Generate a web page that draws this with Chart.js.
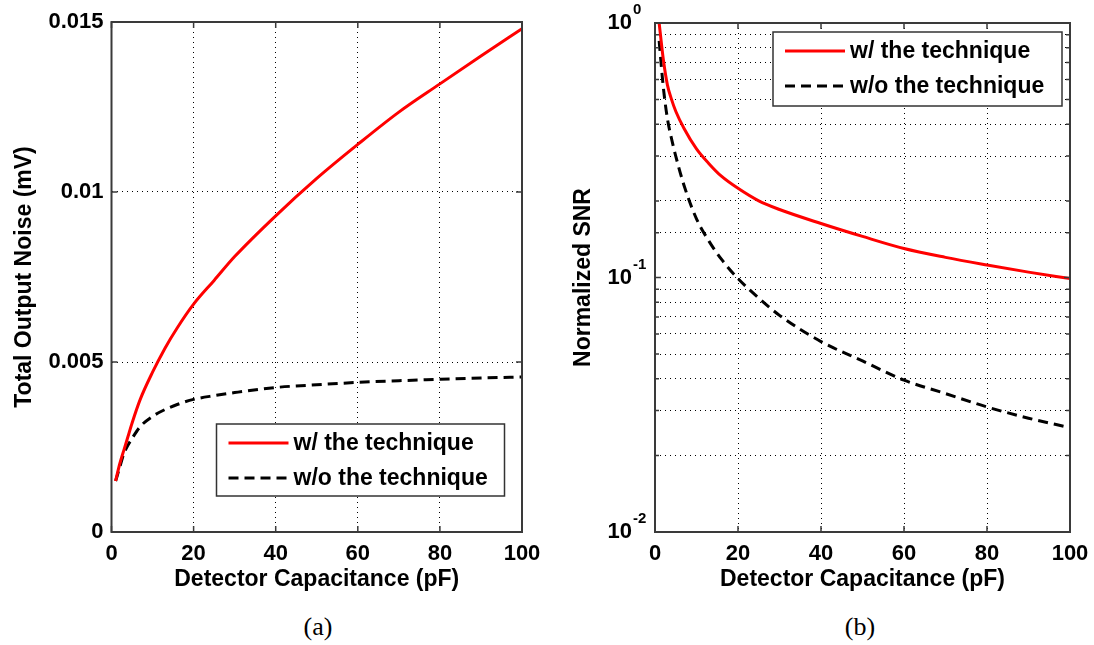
<!DOCTYPE html>
<html>
<head>
<meta charset="utf-8">
<script src="https://cdn.jsdelivr.net/npm/chart.js@4.4.1/dist/chart.umd.min.js"></script>
<style>
  html, body { margin: 0; padding: 0; background: #fff; }
  #wrap { position: relative; width: 1094px; height: 645px; overflow: hidden; }
  canvas { position: absolute; top: 0; }
  #noiseChart { left: 0; }
  #snrChart { left: 547px; }
  .cap { position: absolute; top: 612px; font-family: 'Liberation Serif', 'Times New Roman', serif;
         font-size: 26px; color: #000; transform: translateX(-50%); }
</style>
</head>
<body>
<div id="wrap">
  <canvas id="noiseChart" width="547" height="600"></canvas>
  <canvas id="snrChart" width="547" height="600"></canvas>
  <div class="cap" style="left:318px">(a)</div>
  <div class="cap" style="left:860px">(b)</div>
</div>
<script>
// values
const capacitance = [1, 2, 3, 4, 5, 7, 10, 13, 16, 20, 25, 30, 40, 50, 60, 70, 80, 90, 100];
const noiseWith = [0.0015, 0.0020, 0.0024, 0.0028, 0.0032, 0.0039, 0.0047, 0.0054, 0.0060, 0.0067,
                   0.0074, 0.0081, 0.0093, 0.0104, 0.0114, 0.01235, 0.01318, 0.0140, 0.0148];
const noiseWithout = [0.0015, 0.0019, 0.0023, 0.00255, 0.00275, 0.0031, 0.0034, 0.0036, 0.00375, 0.0039,
                      0.00401, 0.0041, 0.00425, 0.00433, 0.0044, 0.00445, 0.00449, 0.00453, 0.00456];
const snrWith = [1.0, 0.72, 0.57, 0.50, 0.45, 0.385, 0.32, 0.28, 0.25, 0.224,
                 0.20, 0.185, 0.163, 0.145, 0.130, 0.120, 0.112, 0.105, 0.099];
const snrWithout = [0.85, 0.56, 0.42, 0.35, 0.30, 0.23, 0.17, 0.139, 0.118, 0.099,
                    0.083, 0.071, 0.056, 0.047, 0.0395, 0.035, 0.031, 0.028, 0.0257];

const capTicks = [0, 20, 40, 60, 80, 100];
const noiseTicks = [0, 0.005, 0.01, 0.015];
const noiseTickLabels = ['0', '0.005', '0.01', '0.015'];
const snrDecades = [1, 0.1, 0.01];
const snrExponents = ['0', '-1', '-2'];
const seriesLabels = ['w/ the technique', 'w/o the technique'];

const FONT = "'Liberation Sans', Arial, Helvetica, sans-serif";
Chart.defaults.font.family = FONT;
Chart.defaults.font.weight = 'bold';
Chart.defaults.color = '#000';

const pts = (ys) => capacitance.map((x, i) => ({ x: x, y: ys[i] }));

// box, inward ticks, legend, log tick labels
const framePlugin = {
  id: 'frame',
  afterDraw(chart, args, o) {
    const { ctx, chartArea: a, scales } = chart;
    ctx.save();
    ctx.strokeStyle = '#3a3a3a';
    ctx.lineWidth = 1.5;
    ctx.beginPath();
    scales.x.ticks.forEach(t => {
      const px = scales.x.getPixelForValue(t.value);
      ctx.moveTo(px, a.bottom); ctx.lineTo(px, a.bottom - 6);
      ctx.moveTo(px, a.top); ctx.lineTo(px, a.top + 6);
    });
    scales.y.ticks.forEach(t => {
      const py = scales.y.getPixelForValue(t.value);
      let len = 6;
      if (o.log && !snrDecades.includes(t.value)) len = 4;
      ctx.moveTo(a.left, py); ctx.lineTo(a.left + len, py);
      ctx.moveTo(a.right, py); ctx.lineTo(a.right - len, py);
    });
    ctx.stroke();
    ctx.lineWidth = 2;
    ctx.strokeRect(a.left, a.top, a.width, a.height);

    if (o.log) {
      ctx.fillStyle = '#000';
      ctx.textBaseline = 'middle';
      snrDecades.forEach((v, i) => {
        const py = scales.y.getPixelForValue(v);
        ctx.font = 'bold 22px ' + FONT;
        ctx.textAlign = 'right';
        ctx.fillText('10', a.left - 23, py);
        ctx.font = 'bold 15px ' + FONT;
        ctx.textAlign = 'left';
        ctx.fillText(snrExponents[i], a.left - 22, py - 13);
      });
    }

    // legend
    const L = o.legend;
    const bx = a.left + L.x, by = a.top + L.y;
    ctx.fillStyle = '#fff';
    ctx.fillRect(bx, by, L.w, L.h);
    ctx.strokeStyle = '#333';
    ctx.lineWidth = 1.5;
    ctx.strokeRect(bx, by, L.w, L.h);
    chart.data.datasets.forEach((ds, i) => {
      const ry = by + 19 + i * 35;
      ctx.beginPath();
      ctx.strokeStyle = ds.borderColor;
      ctx.lineWidth = ds.borderWidth;
      ctx.setLineDash(ds.borderDash || []);
      ctx.moveTo(bx + 12, ry); ctx.lineTo(bx + 72, ry);
      ctx.stroke();
      ctx.setLineDash([]);
      ctx.fillStyle = '#000';
      ctx.font = 'bold 23px ' + FONT;
      ctx.textAlign = 'left';
      ctx.textBaseline = 'middle';
      ctx.fillText(ds.label, bx + 77, ry + 1);
    });
    ctx.restore();
  }
};

function datasets(a, b) {
  return [
    { label: seriesLabels[0], data: pts(a), borderColor: '#ff0000', borderWidth: 3,
      pointRadius: 0, cubicInterpolationMode: 'monotone', fill: false },
    { label: seriesLabels[1], data: pts(b), borderColor: '#000000', borderWidth: 3,
      borderDash: [10, 6], pointRadius: 0, cubicInterpolationMode: 'monotone', fill: false }
  ];
}

const xAxis = {
  type: 'linear', min: 0, max: 100,
  afterBuildTicks: s => { s.ticks = capTicks.map(v => ({ value: v })); },
  ticks: { font: { size: 22, weight: 'bold' }, color: '#000', padding: 9, maxRotation: 0 },
  grid: { color: '#000', lineWidth: 1, drawTicks: false },
  border: { display: false, dash: [1, 4] },
  title: { display: true, text: 'Detector Capacitance (pF)', color: '#000',
           font: { size: 23, weight: 'bold' }, padding: { top: 0, bottom: 7 } },
  afterFit: s => { s.height = 68; s.paddingLeft = 0; s.paddingRight = 0; }
};

new Chart(document.getElementById('noiseChart'), {
  type: 'line',
  data: { datasets: datasets(noiseWith, noiseWithout) },
  plugins: [framePlugin],
  options: {
    responsive: false, animation: false, devicePixelRatio: 1,
    layout: { padding: { top: 22, right: 25, left: 0, bottom: 0 } },
    plugins: {
      legend: { display: false }, tooltip: { enabled: false },
      frame: { legend: { x: 105, y: 402, w: 288, h: 72 } }
    },
    scales: {
      x: xAxis,
      y: {
        type: 'linear', min: 0, max: 0.015,
        afterBuildTicks: s => { s.ticks = noiseTicks.map(v => ({ value: v })); },
        ticks: { font: { size: 22, weight: 'bold' }, color: '#000', padding: 8,
                 callback: (v) => noiseTickLabels[noiseTicks.indexOf(v)] },
        grid: { color: '#000', lineWidth: 1, drawTicks: false },
        border: { display: false, dash: [1, 4] },
        title: { display: true, text: 'Total Output Noise (mV)', color: '#000',
                 font: { size: 23, weight: 'bold' }, padding: { top: 11, bottom: 0 } },
        afterFit: s => { s.width = 111.5; s.paddingTop = 0; s.paddingBottom = 0; }
      }
    }
  }
});

new Chart(document.getElementById('snrChart'), {
  type: 'line',
  data: { datasets: datasets(snrWith, snrWithout) },
  plugins: [framePlugin],
  options: {
    responsive: false, animation: false, devicePixelRatio: 1,
    layout: { padding: { top: 23, right: 24, left: 0, bottom: 0 } },
    plugins: {
      legend: { display: false }, tooltip: { enabled: false },
      frame: { log: true, legend: { x: 118, y: 9, w: 289, h: 74 } }
    },
    scales: {
      x: Object.assign({}, xAxis),
      y: {
        type: 'logarithmic', min: 0.01, max: 1,
        ticks: { display: false },
        grid: { color: '#000', lineWidth: 1, drawTicks: false },
        border: { display: false, dash: [1, 4] },
        title: { display: true, text: 'Normalized SNR', color: '#000',
                 font: { size: 23, weight: 'bold' }, padding: { top: 23, bottom: 0 } },
        afterFit: s => { s.width = 108; s.paddingTop = 0; s.paddingBottom = 0; }
      }
    }
  }
});
</script>
</body>
</html>
